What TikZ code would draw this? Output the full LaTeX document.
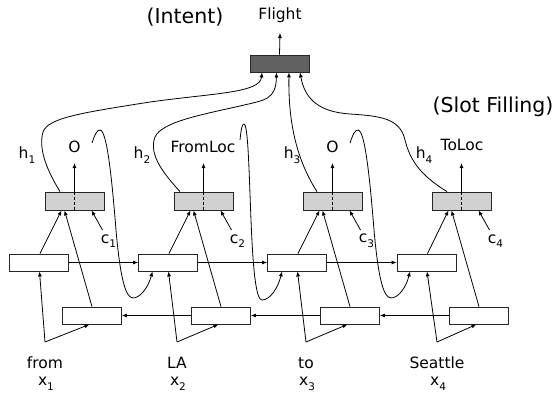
\documentclass[tikz,border=0pt]{standalone}
\usepackage{fontspec}
\setmainfont{DejaVu Sans}
\usetikzlibrary{arrows.meta}
\newcommand\mysub[1]{\raisebox{-0.55ex}{\fontsize{10.5}{11}\selectfont #1}}
\begin{document}
\begin{tikzpicture}[x=1pt,y=-1pt,
  line width=0.8pt,
  arr/.style={-{Latex[length=5pt,width=4pt]}},
  intentbox/.style={draw=black!85,fill=black!62,minimum width=59pt,minimum height=17pt,inner sep=0pt},
  slotbox/.style={draw=black!85,fill=black!18,minimum width=59pt,minimum height=18pt,inner sep=0pt},
  lstmbox/.style={draw=black!85,fill=white,minimum width=59pt,minimum height=17pt,inner sep=0pt},
  lbl/.style={font=\fontsize{15.5}{17}\selectfont,inner sep=0pt},
  big/.style={font=\fontsize{20.5}{23}\selectfont,inner sep=0pt}]
\useasboundingbox (0,0) rectangle (557,399);

% titles
\node[big] (tIntent) at (185,17) {(Intent)};
\node[big] (tSlot) at (493,107) {(Slot Filling)};

% intent
\node[intentbox] (I) at (279.5,63.5) {};
\node[lbl] (flight) at (280,15) {Flight};
\coordinate (ftip) at (280,33);
\draw[arr] (I.north) -- (ftip);

% slot boxes, lstm boxes
\foreach \i/\sx/\fx/\bx in {1/74.5/39/92, 2/203.5/168/221, 3/332.5/297/350, 4/461.5/426.5/479}{
  \node[slotbox] (s\i) at (\sx,201) {};
  \node[lstmbox] (f\i) at (\fx,262.5) {};
  \node[lstmbox] (b\i) at (\bx,315.5) {};
  \draw[dash pattern=on 3pt off 2pt] (s\i.north) -- (s\i.south);
  \coordinate (ot\i) at (\sx,163);
  \draw[arr] (s\i.north) -- (ot\i);
  \draw[arr] ([xshift=1pt]f\i.north) -- ([xshift=-13pt]s\i.south);
  \draw[arr] (b\i.north) -- ([xshift=-10pt]s\i.south);
  \coordinate (cs\i) at (\sx+28,230);
  \draw[arr] (cs\i) -- ([xshift=17pt]s\i.south);
  \node[lbl] (c\i) at (\sx+34,241) {c\mysub{\i}};
}

% horizontal recurrences
\draw[arr] (f1.east) -- (f2.west);
\draw[arr] (f2.east) -- (f3.west);
\draw[arr] (f3.east) -- (f4.west);
\draw[arr] (b2.west) -- (b1.east);
\draw[arr] (b3.west) -- (b2.east);
\draw[arr] (b4.west) -- (b3.east);

% inputs
\foreach \i/\wx/\word in {1/45/from, 2/177/LA, 3/306/to, 4/437/Seattle}{
  \coordinate (w\i) at (\wx,342);
  \draw[arr] (w\i) -- ([xshift=0.5pt]f\i.south);
  \draw[arr] (w\i) -- ([xshift=-2.5pt]b\i.south);
  \node[lbl] (word\i) at (\wx,363) {\word};
  \node[lbl] (x\i) at (\wx+1,384) {x\mysub{\i}};
}

% output labels
\node[lbl] (o1) at (74.5,147) {O};
\node[lbl] (o2) at (203,147) {FromLoc};
\node[lbl] (o3) at (332.5,147) {O};
\node[lbl] (o4) at (462,145) {ToLoc};

% h labels
\node[lbl] (h1) at (27,155) {h\mysub{1}};
\node[lbl] (h2) at (142,155) {h\mysub{2}};
\node[lbl] (h3) at (292,155) {h\mysub{3}};
\node[lbl] (h4) at (424,155) {h\mysub{4}};

% h curves to intent
\draw[arr] ([xshift=-14.5pt]s1.north) .. controls (48,172) and (38,150) .. (43,132)
  .. controls (48,118) and (80,113) .. (150,102)
  .. controls (215,93) and (260,93) .. ([xshift=-17.5pt]I.south);
\draw[arr] ([xshift=-23.5pt]s2.north) .. controls (165,175) and (148,155) .. (155,137)
  .. controls (162,122) and (200,115) .. (240,106)
  .. controls (265,100) and (276,100) .. ([xshift=-3pt]I.south);
\draw[arr] ([xshift=-15.5pt]s3.north) .. controls (300,165) and (288,130) .. ([xshift=9.5pt]I.south);
\draw[arr] ([xshift=-14.5pt]s4.north) .. controls (420,175) and (410,160) .. (405,140)
  .. controls (400,118) and (380,116) .. (350,114)
  .. controls (320,112) and (305,100) .. ([xshift=20.5pt]I.south);

% feedback loops
\coordinate (l1) at (92,143);
\coordinate (l2) at (240,140);
\coordinate (l3) at (350,143);
\draw[arr] (l1) .. controls (95,134) and (97,130) .. (100,130)
  .. controls (107,130) and (112,180) .. (116,230)
  .. controls (120,275) and (125,298) .. (133,298)
  .. controls (140,298) and (148,288) .. ([xshift=-15.5pt]f2.south);
\draw[arr] (l2) .. controls (241,130) and (242,124) .. (244,124)
  .. controls (248,124) and (249,170) .. (251,220)
  .. controls (253,270) and (256,300) .. (262,300)
  .. controls (270,300) and (278,288) .. ([xshift=-15pt]f3.south);
\draw[arr] (l3) .. controls (353,134) and (355,130) .. (358,130)
  .. controls (365,130) and (370,180) .. (374,230)
  .. controls (378,275) and (383,298) .. (391,298)
  .. controls (398,298) and (406,288) .. ([xshift=-16.5pt]f4.south);
\end{tikzpicture}
\end{document}
